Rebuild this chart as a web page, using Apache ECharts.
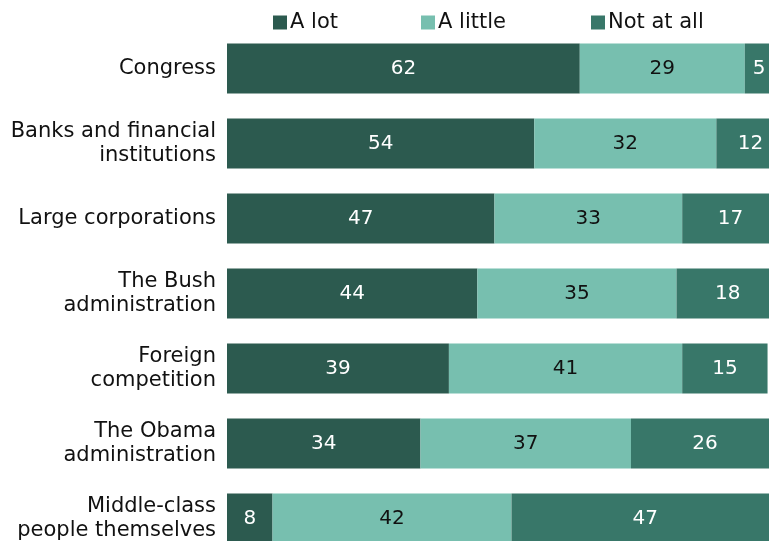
<!DOCTYPE html>
<html>
<head>
<meta charset="utf-8">
<script src="https://cdn.jsdelivr.net/npm/echarts@6/dist/echarts.min.js"></script>
<style>
  html, body { margin: 0; padding: 0; background: #ffffff; }
  #chart { width: 769px; height: 541px; }
</style>
</head>
<body>
<div id="chart"></div>
<script>
// Who is to blame: share of respondents (%)
const categories = [
  'Congress',
  'Banks and financial\ninstitutions',
  'Large corporations',
  'The Bush\nadministration',
  'Foreign\ncompetition',
  'The Obama\nadministration',
  'Middle-class\npeople themselves'
];
const seriesNames = ['A lot', 'A little', 'Not at all'];
const aLot = [62, 54, 47, 44, 39, 34, 8];
const aLittle = [29, 32, 33, 35, 41, 37, 42];
const notAtAll = [5, 12, 17, 18, 15, 26, 47];

const colors = ['#2c5a4f', '#77bfaf', '#387769'];
const labelColors = ['#ffffff', '#111111', '#ffffff'];
const FONT = 'DejaVu Sans';

const chart = echarts.init(document.getElementById('chart'), null, { renderer: 'canvas' });

function makeSeries(name, data, idx) {
  return {
    name: name,
    type: 'bar',
    stack: 'total',
    data: data,
    barWidth: 50,
    itemStyle: { color: colors[idx] },
    label: {
      show: true,
      position: 'inside',
      color: labelColors[idx],
      fontFamily: FONT,
      fontSize: 20
    },
    emphasis: { disabled: true },
    animation: false
  };
}

function makeLegend(name, left) {
  return {
    data: [name],
    left: left,
    top: 12,
    padding: 0,
    itemWidth: 14,
    itemHeight: 14,
    itemGap: 0,
    icon: 'rect',
    textStyle: { fontFamily: FONT, fontSize: 21, color: '#111111', padding: [0, 0, 0, -2] }
  };
}

chart.setOption({
  backgroundColor: '#ffffff',
  color: colors,
  legend: [
    makeLegend('A lot', 273),
    makeLegend('A little', 421),
    makeLegend('Not at all', 591)
  ],
  // plot area runs past the right and bottom edges of the canvas
  grid: {
    left: 227, top: 31, width: 569, height: 525,
    containLabel: false,
    outerBoundsMode: 'none'
  },
  xAxis: {
    type: 'value',
    min: 0,
    max: 100,
    show: false
  },
  yAxis: {
    type: 'category',
    inverse: true,
    data: categories,
    axisLine: { show: false },
    axisTick: { show: false },
    axisLabel: {
      margin: 11,
      fontFamily: FONT,
      fontSize: 21,
      lineHeight: 24,
      color: '#111111',
      align: 'right'
    }
  },
  series: [
    makeSeries(seriesNames[0], aLot, 0),
    makeSeries(seriesNames[1], aLittle, 1),
    makeSeries(seriesNames[2], notAtAll, 2)
  ]
});
</script>
</body>
</html>
